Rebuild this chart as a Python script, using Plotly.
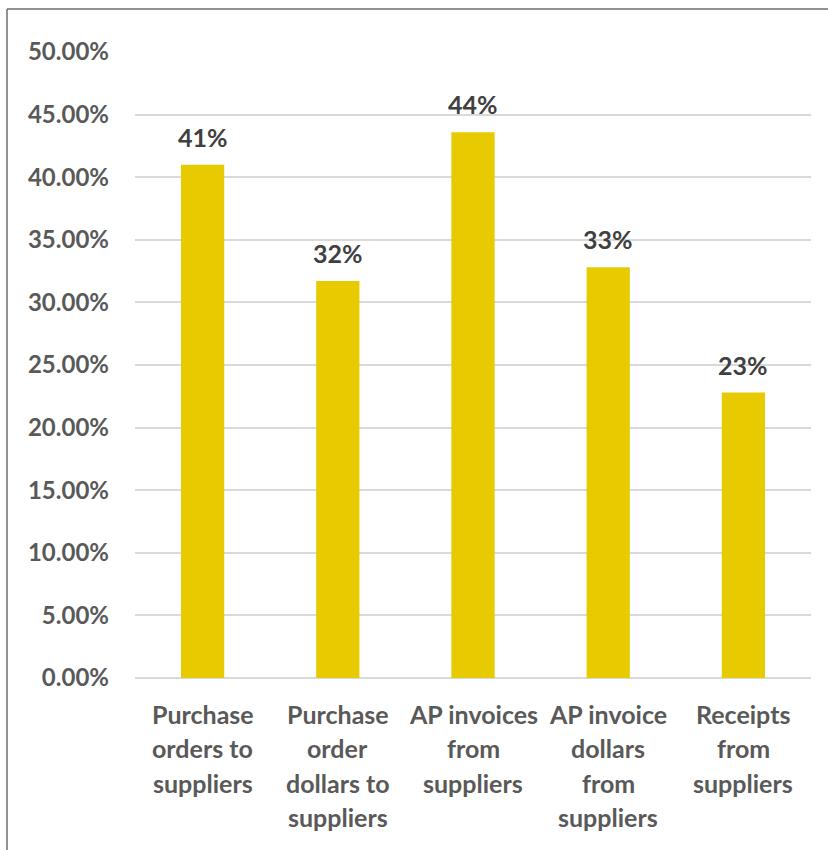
import plotly.graph_objects as go

# Share of transactions exchanged electronically with suppliers
categories = [
    "Purchase<br>orders to<br>suppliers",
    "Purchase<br>order<br>dollars to<br>suppliers",
    "AP invoices<br>from<br>suppliers",
    "AP invoice<br>dollars<br>from<br>suppliers",
    "Receipts<br>from<br>suppliers",
]
values = [0.410, 0.317, 0.436, 0.328, 0.228]
tick_vals = [0, 0.05, 0.10, 0.15, 0.20, 0.25, 0.30, 0.35, 0.40, 0.45, 0.50]

FONT = "Lato"
BAR_COLOR = "#E8CA00"
TICK_COLOR = "#595959"
LABEL_COLOR = "#404040"

fig = go.Figure(
    go.Bar(
        x=list(range(len(categories))),
        y=values,
        marker=dict(color=BAR_COLOR, line=dict(width=0)),
        hoverinfo="skip",
    )
)

annotations = []
# value labels above each bar
for i, v in enumerate(values):
    annotations.append(dict(
        x=i, y=v, xref="x", yref="y",
        text=f"<b>{v:.0%}</b>", showarrow=False,
        yanchor="middle", yshift=28,
        font=dict(family=FONT, size=25, color=LABEL_COLOR),
    ))
# category labels, one annotation per line for Excel-like line spacing
for i, cat in enumerate(categories):
    for j, line in enumerate(cat.split("<br>")):
        annotations.append(dict(
            x=i, y=0, xref="x", yref="paper",
            text=f"<b>{line}</b>", showarrow=False,
            yanchor="middle", yshift=-(36 + j * 34.3),
            font=dict(family=FONT, size=25, color=TICK_COLOR),
        ))

fig.update_layout(
    width=828, height=850,
    margin=dict(l=135, r=17, t=52, b=172),
    paper_bgcolor="white", plot_bgcolor="white",
    bargap=0.68,
    showlegend=False,
    annotations=annotations,
    shapes=[
        dict(type="line", xref="paper", yref="paper",
             x0=-128 / 676, x1=1.05, y0=1 + 43 / 626, y1=1 + 43 / 626,
             line=dict(color="#6E6E6E", width=1.5)),
        dict(type="line", xref="paper", yref="paper",
             x0=-128 / 676, x1=-128 / 676, y0=1 + 43 / 626, y1=-0.3,
             line=dict(color="#6E6E6E", width=1.5)),
    ],
    xaxis=dict(
        range=[-0.5, len(categories) - 0.5],
        showticklabels=False, showgrid=False, zeroline=False,
        showline=False, ticks="",
    ),
    yaxis=dict(
        range=[0, 0.5],
        tickvals=tick_vals,
        tickformat=".2%",
        showgrid=True, gridcolor="#D9D9D9", gridwidth=1.5,
        zeroline=True, zerolinecolor="#D9D9D9", zerolinewidth=1.5,
        showline=False, ticks="",
        ticklabelstandoff=25,
        tickfont=dict(family=FONT, size=24, color=TICK_COLOR, weight="bold"),
    ),
)

fig.write_html("out.html")
